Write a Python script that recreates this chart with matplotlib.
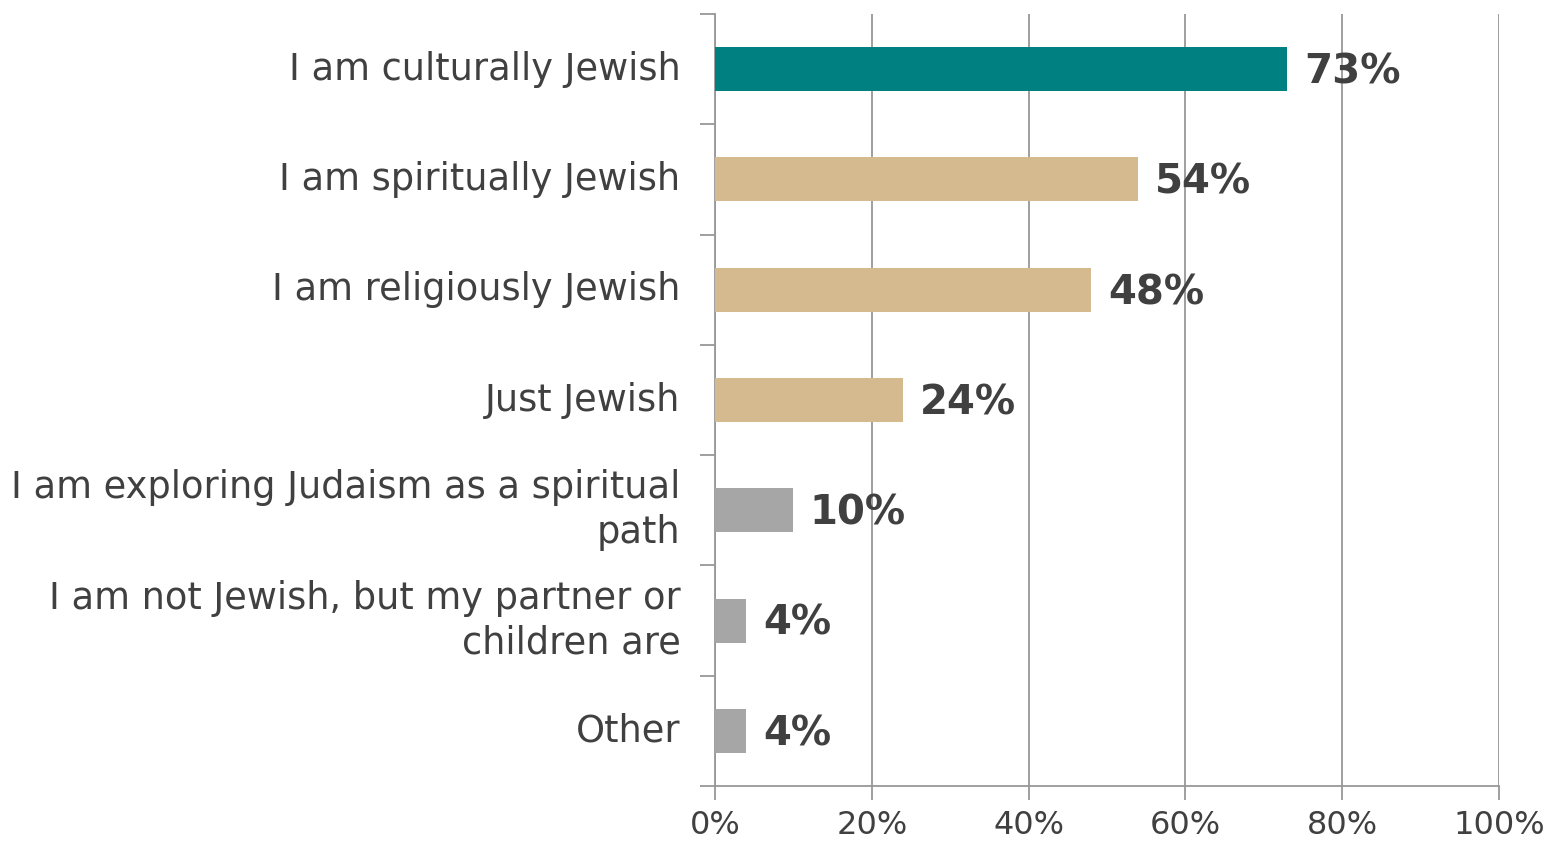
import numpy as np
import matplotlib.pyplot as plt

# data (top to bottom)
categories = [
    "I am culturally Jewish",
    "I am spiritually Jewish",
    "I am religiously Jewish",
    "Just Jewish",
    "I am exploring Judaism as a spiritual\npath",
    "I am not Jewish, but my partner or\nchildren are",
    "Other",
]
values = [73, 54, 48, 24, 10, 4, 4]
bar_colors = ["#008080", "#D4BA8E", "#D4BA8E", "#D4BA8E", "#A6A6A6", "#A6A6A6", "#A6A6A6"]
x_ticks = [0, 20, 40, 60, 80, 100]

text_color = "#404040"
grid_color = "#979797"

plt.rcParams["font.family"] = ["DejaVu Sans"]

fig = plt.figure(figsize=(15.51, 8.43), dpi=100)
ax = fig.add_axes([715 / 1551, 1 - 786 / 843, (1499 - 715) / 1551, (786 - 14) / 843])

n = len(categories)
y = np.arange(n)
ax.barh(y, values, height=0.4, color=bar_colors, zorder=3)

for yi, v in zip(y, values):
    ax.text(v + 2.1, yi + 0.03, f"{v}%", va="center", ha="left", fontsize=29,
            fontweight="bold", color=text_color, zorder=4)

ax.set_xlim(0, 100)
ax.set_ylim(n - 0.5, -0.5)

ax.set_xticks(x_ticks)
ax.set_xticklabels([f"{t}%" for t in x_ticks], fontsize=23, color=text_color)
ax.xaxis.grid(True, color=grid_color, linewidth=1.3, zorder=0)

# category labels placed at band centres, ticks at band boundaries
ax.set_yticks(np.arange(-0.5, n, 1.0))
ax.set_yticklabels([])
for yi, lab in zip(y, categories):
    ax.text(-4.4, yi, lab, ha="right", va="center", fontsize=26.5,
            color=text_color, linespacing=1.27, transform=ax.transData)

ax.tick_params(axis="y", length=11, width=1.3, color=grid_color, direction="out")
ax.tick_params(axis="x", length=10, width=1.3, color=grid_color, direction="out", pad=7)

for side in ["top", "right"]:
    ax.spines[side].set_visible(False)
for side in ["left", "bottom"]:
    ax.spines[side].set_color(grid_color)
    ax.spines[side].set_linewidth(1.3)

fig.savefig("out.png", dpi=100)
